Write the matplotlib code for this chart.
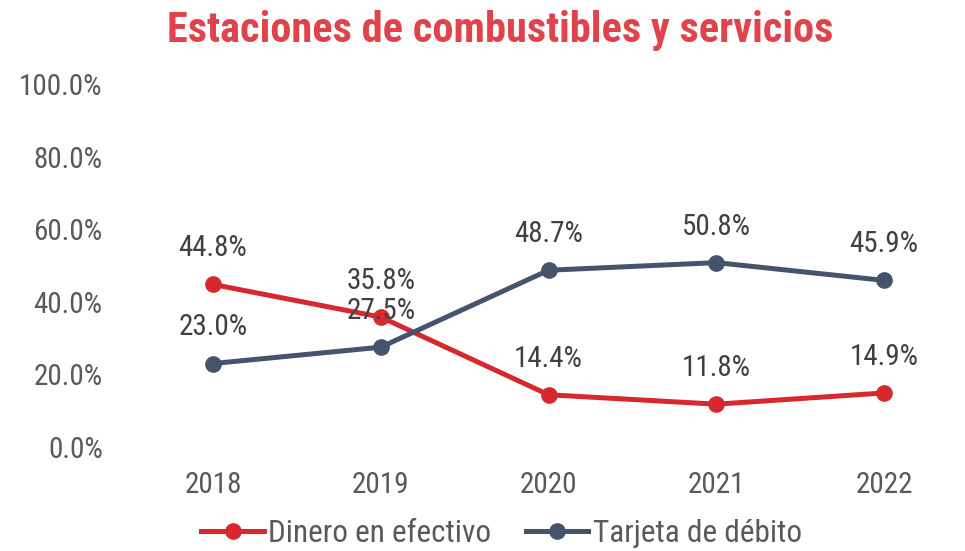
import matplotlib
matplotlib.use("Agg")
import matplotlib.pyplot as plt
from matplotlib.ticker import FuncFormatter

years = ["2018", "2019", "2020", "2021", "2022"]
efectivo = [44.8, 35.8, 14.4, 11.8, 14.9]
debito = [23.0, 27.5, 48.7, 50.8, 45.9]
series_names = ["Dinero en efectivo", "Tarjeta de débito"]
title = "Estaciones de combustibles y servicios"

red = "#D7282F"
slate = "#44546A"

plt.rcParams['font.family'] = ['Roboto Condensed', 'DejaVu Sans']
fig = plt.figure(figsize=(9.65, 5.51), dpi=100)
ax = fig.add_axes([0.1337, 0.1887, 0.866, 0.6588])

x = list(range(len(years)))
l1, = ax.plot(x, efectivo, color=red, lw=3.6, marker='o', ms=11, label=series_names[0], zorder=3)
l2, = ax.plot(x, debito, color=slate, lw=3.6, marker='o', ms=11, label=series_names[1], zorder=3)

for ys in (efectivo, debito):
    for xi, yi in zip(x, ys):
        ax.annotate(f"{yi:.1f}%", (xi, yi), xytext=(0, 26), textcoords='offset points',
                    ha='center', va='center', fontsize=21, color='#404040', zorder=4)

ax.set_ylim(0, 100)
ax.set_yticks([0, 20, 40, 60, 80, 100])
ax.yaxis.set_major_formatter(FuncFormatter(lambda v, p: f"{v:.1f}%"))
ax.set_xlim(-0.5, 4.48)
ax.set_xticks(x)
ax.set_xticklabels(years)
for s in ax.spines.values():
    s.set_visible(False)
ax.tick_params(axis='both', length=0, labelsize=21, labelcolor='#595959')
ax.tick_params(axis='y', pad=19)
ax.tick_params(axis='x', pad=17)

fig.text(0.518, 0.945, title, ha='center', va='center', fontsize=30.5, fontweight='bold', color='#E0434B')

fig.legend(handles=[l1, l2], loc='center', bbox_to_anchor=(0.52, 0.032), ncol=2, frameon=False,
           fontsize=22.5, labelcolor='#595959', handlelength=2.0, handletextpad=0.15, columnspacing=1.1,
           borderpad=0, borderaxespad=0)

fig.savefig("out.png", dpi=100)
